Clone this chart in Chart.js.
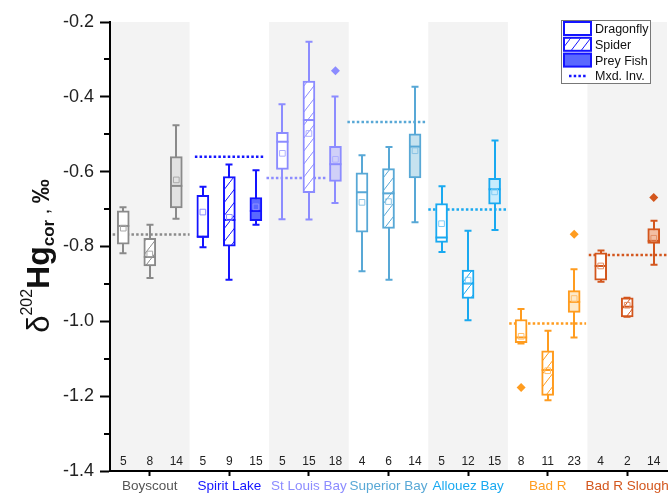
<!DOCTYPE html>
<html>
<head>
<meta charset="utf-8">
<script src="https://cdn.jsdelivr.net/npm/chart.js@4"></script>
<style>
html, body { margin: 0; padding: 0; background: #fff; }
#wrap { width: 672px; height: 494px; }
</style>
</head>
<body>
<div id="wrap"><canvas id="chart" width="672" height="494"></canvas></div>
<script>
// sites along the x axis, each one holds 3 boxes: Dragonfly, Spider, Prey Fish
const sites = ['Boyscout', 'Spirit Lake', 'St Louis Bay', 'Superior Bay', 'Allouez Bay', 'Bad R', 'Bad R Slough'];
const taxa = ['Dragonfly', 'Spider', 'Prey Fish', 'Mxd. Inv.'];

// box statistics, one value per box (site by site, Dragonfly / Spider / Prey Fish)
const whiskerLow = [-0.818, -0.884, -0.726, -0.802, -0.889, -0.742, -0.727, -0.728, -0.684, -0.866, -0.889, -0.735, -0.815, -0.997, -0.756, -1.059, -1.211, -1.043, -0.894, -0.988, -0.849];
const q1 = [-0.794, -0.852, -0.697, -0.776, -0.799, -0.731, -0.594, -0.656, -0.626, -0.762, -0.752, -0.617, -0.789, -0.939, -0.687, -1.057, -1.198, -0.976, -0.890, -0.988, -0.792];
const median = [-0.745, -0.828, -0.638, -0.774, -0.729, -0.705, -0.520, -0.462, -0.580, -0.655, -0.658, -0.533, -0.776, -0.899, -0.647, -1.043, -1.130, -0.948, -0.852, -0.961, -0.785];
const q3 = [-0.705, -0.778, -0.560, -0.663, -0.613, -0.669, -0.495, -0.358, -0.532, -0.603, -0.592, -0.499, -0.685, -0.863, -0.618, -0.995, -1.079, -0.918, -0.817, -0.937, -0.752];
const whiskerHigh = [-0.695, -0.742, -0.476, -0.640, -0.581, -0.596, -0.420, -0.253, -0.399, -0.556, -0.534, -0.373, -0.639, -0.758, -0.517, -0.967, -1.025, -0.861, -0.811, -0.937, -0.731];
const means = [-0.751, -0.820, -0.622, -0.708, -0.722, -0.694, -0.551, -0.498, -0.567, -0.682, -0.680, -0.544, -0.739, -0.890, -0.654, -1.040, -1.132, -0.939, -0.852, -0.957, -0.778];
const counts = [5, 8, 14, 5, 9, 15, 5, 15, 18, 4, 6, 14, 5, 12, 15, 8, 11, 23, 4, 2, 14];

// outliers: which box, and the value
const outlierBox = [8, 15, 17, 20];
const outlierValue = [-0.330, -1.177, -0.767, -0.669];

// mixed invertebrate level per site, and the x span of its dotted line
const mxdInv = [-0.768, -0.560, -0.617, -0.467, -0.701, -1.006, -0.823];
const mxdFrom = [0.1, 3.2, 5.9, 8.95, 12.0, 15.05, 18.05];
const mxdTo = [3.0, 5.85, 8.2, 11.95, 15.0, 17.95, 21];

const yTicks = [-1.4, -1.2, -1.0, -0.8, -0.6, -0.4, -0.2];
const yMinor = [-1.3, -1.1, -0.9, -0.7, -0.5, -0.3];
const countLevel = -1.375;

// colours per site
const siteColors = ['#8a8a8a', '#1414ff', '#8c8cff', '#58a8d6', '#19a9f0', '#ff9c1f', '#d3561d'];
const preyFill = ['#e2e2e2', '#5a68ff', '#d0d0f8', '#c6e2ef', '#c8ecfd', '#fde9c9', '#f3bea3'];
const meanColors = ['#a8a8a8', '#8f8fff', '#b0b0ff', '#8cc4e4', '#80ccf5', '#ffc070', '#e39068'];
const labelColors = ['#555555', '#1414ff', '#8c8cff', '#58a8d6', '#19a9f0', '#ff9c1f', '#d3561d'];
const bandColor = '#f3f3f3';

const FONT = "'Liberation Sans', Arial, sans-serif";
Chart.defaults.font.family = FONT;

function hatch(color) {
    const c = document.createElement('canvas');
    c.width = 10; c.height = 13;
    const g = c.getContext('2d');
    g.fillStyle = '#fff';
    g.fillRect(0, 0, 10, 13);
    g.strokeStyle = color;
    g.lineWidth = 1;
    g.beginPath();
    g.moveTo(-2, 15.6); g.lineTo(12, -2.6);
    g.stroke();
    return g.createPattern(c, 'repeat');
}

const site = i => Math.floor(i / 3);
const boxX = i => i + 0.5;

const boxBg = q1.map((v, i) => {
    const t = i % 3;
    if (t === 0) return '#ffffff';
    if (t === 1) return hatch(siteColors[site(i)]);
    return preyFill[site(i)];
});

const mxdSets = mxdInv.map((v, s) => ({
    type: 'line',
    data: [{ x: mxdFrom[s], y: v }, { x: mxdTo[s], y: v }],
    borderColor: siteColors[s],
    borderWidth: 2.5,
    borderDash: [2.5, 2.2],
    pointRadius: 0,
    order: 10
}));

const boxPlugin = {
    id: 'boxes',
    beforeDraw(chart) {
        const { ctx, chartArea: a, scales: { x } } = chart;
        ctx.save();
        ctx.fillStyle = bandColor;
        sites.forEach((s, k) => {
            if (k % 2) return;
            const l = x.getPixelForValue(k * 3), r = x.getPixelForValue(k * 3 + 3);
            ctx.fillRect(l, a.top, r - l, a.bottom - a.top);
        });
        ctx.restore();
    },
    beforeDatasetsDraw(chart) {
        const { ctx, scales: { x, y } } = chart;
        ctx.save();
        ctx.lineWidth = 2;
        q1.forEach((v, i) => {
            const px = Math.round(x.getPixelForValue(boxX(i)));
            ctx.strokeStyle = siteColors[site(i)];
            const lo = y.getPixelForValue(whiskerLow[i]), hi = y.getPixelForValue(whiskerHigh[i]);
            ctx.beginPath();
            ctx.moveTo(px, lo); ctx.lineTo(px, hi);
            ctx.moveTo(px - 3.5, lo); ctx.lineTo(px + 3.5, lo);
            ctx.moveTo(px - 3.5, hi); ctx.lineTo(px + 3.5, hi);
            ctx.stroke();
        });
        ctx.restore();
    },
    afterDatasetDraw(chart, args) {
        if (args.meta.type !== 'bar') return;
        const { ctx, scales: { x, y } } = chart;
        ctx.save();
        ctx.lineWidth = 2;
        median.forEach((m, i) => {
            const px = x.getPixelForValue(boxX(i));
            const py = y.getPixelForValue(m);
            ctx.strokeStyle = siteColors[site(i)];
            ctx.beginPath();
            ctx.moveTo(px - 6, py); ctx.lineTo(px + 6, py);
            ctx.stroke();
        });
        ctx.restore();
    },
    afterDraw(chart) {
        const { ctx, chartArea: a, scales: { x, y } } = chart;
        ctx.save();
        // minor ticks
        ctx.strokeStyle = '#000';
        ctx.lineWidth = 2;
        yMinor.forEach(v => {
            const py = Math.round(y.getPixelForValue(v));
            ctx.beginPath();
            ctx.moveTo(a.left - 6, py); ctx.lineTo(a.left, py);
            ctx.stroke();
        });
        // counts
        ctx.fillStyle = '#222';
        ctx.font = '12px ' + FONT;
        ctx.textAlign = 'center';
        ctx.textBaseline = 'middle';
        counts.forEach((n, i) => {
            ctx.fillText(String(n), x.getPixelForValue(boxX(i)), y.getPixelForValue(countLevel));
        });
        // legend
        const lx = 561.5, ly = 20.5, lw = 89, lh = 63;
        ctx.fillStyle = '#fff';
        ctx.fillRect(lx, ly, lw, lh);
        ctx.strokeStyle = '#777';
        ctx.lineWidth = 1;
        ctx.strokeRect(lx, ly, lw, lh);
        const legBlue = siteColors[1];
        const legFills = ['#ffffff', hatch(legBlue), preyFill[1]];
        ctx.textAlign = 'left';
        ctx.font = '12.5px ' + FONT;
        taxa.forEach((t, k) => {
            const cy = 28.5 + k * 15.8;
            if (k < 3) {
                ctx.fillStyle = legFills[k];
                ctx.fillRect(564, cy - 6.5, 27, 13);
                ctx.strokeStyle = legBlue;
                ctx.lineWidth = 2;
                ctx.strokeRect(564, cy - 6.5, 27, 13);
            } else {
                ctx.strokeStyle = legBlue;
                ctx.lineWidth = 2.5;
                ctx.setLineDash([2.5, 2.2]);
                ctx.beginPath();
                ctx.moveTo(569, cy); ctx.lineTo(586, cy);
                ctx.stroke();
                ctx.setLineDash([]);
            }
            ctx.fillStyle = '#111';
            ctx.fillText(t, 595, cy + 1);
        });
        // y axis title
        ctx.translate(49, 256);
        ctx.rotate(-Math.PI / 2);
        const parts = [
            { t: '\u03b4', f: '31px ' + FONT, dy: 0 },
            { t: '202', f: '16px ' + FONT, dy: -17 },
            { t: 'Hg', f: 'bold 32px ' + FONT, dy: 0 },
            { t: 'cor', f: 'bold 17px ' + FONT, dy: 5 },
            { t: ' , ', f: '20px ' + FONT, dy: 0 },
            { t: '\u2030', f: 'bold 24px ' + FONT, dy: 0 }
        ];
        let total = 0;
        parts.forEach(p => { ctx.font = p.f; p.w = ctx.measureText(p.t).width; total += p.w; });
        let cx = -total / 2;
        ctx.fillStyle = '#111';
        ctx.textBaseline = 'alphabetic';
        parts.forEach(p => {
            ctx.font = p.f;
            ctx.fillText(p.t, cx, p.dy);
            cx += p.w;
        });
        ctx.restore();
    }
};

new Chart(document.getElementById('chart'), {
    type: 'bar',
    data: {
        datasets: [
            ...mxdSets,
            {
                type: 'bar',
                data: q1.map((v, i) => ({ x: boxX(i), y: [v, q3[i]] })),
                backgroundColor: boxBg,
                borderColor: q1.map((v, i) => siteColors[site(i)]),
                borderWidth: 2,
                borderSkipped: false,
                barThickness: 12,
                order: 5
            },
            {
                type: 'scatter',
                data: means.map((m, i) => ({ x: boxX(i), y: m })),
                pointStyle: 'rect',
                pointRadius: 4,
                borderWidth: 1,
                borderColor: means.map((m, i) => meanColors[site(i)]),
                backgroundColor: 'rgba(0,0,0,0)',
                order: 1
            },
            {
                type: 'scatter',
                data: outlierBox.map((b, k) => ({ x: boxX(b), y: outlierValue[k] })),
                pointStyle: 'rectRot',
                pointRadius: 4.5,
                borderWidth: 0,
                backgroundColor: outlierBox.map(b => siteColors[site(b)]),
                order: 1
            }
        ]
    },
    options: {
        responsive: false,
        animation: false,
        events: [],
        layout: { padding: { top: 22, right: 2, left: 0, bottom: 0 } },
        plugins: { legend: { display: false }, tooltip: { enabled: false } },
        scales: {
            x: {
                type: 'linear',
                min: 0,
                max: 21,
                offset: false,
                border: { color: '#000', width: 2 },
                grid: { drawOnChartArea: false, offset: false, color: '#000', tickLength: 5, tickWidth: 2 },
                afterBuildTicks: scale => { scale.ticks = sites.map((s, k) => ({ value: k * 3 + 1.5 })); },
                afterFit: scale => { scale.height = 23; scale.paddingLeft = 0; scale.paddingRight = 0; },
                ticks: {
                    autoSkip: false,
                    maxRotation: 0,
                    padding: 2,
                    font: { size: 13.5 },
                    color: c => labelColors[c.index],
                    callback: (v, i) => sites[i]
                }
            },
            y: {
                min: -1.4,
                max: -0.2,
                border: { color: '#000', width: 2 },
                grid: { drawOnChartArea: false, color: '#000', tickLength: 10, tickWidth: 2 },
                afterBuildTicks: scale => { scale.ticks = yTicks.map(v => ({ value: v })); },
                afterFit: scale => { scale.width = 110; },
                ticks: {
                    padding: 6,
                    font: { size: 18 },
                    color: '#222',
                    callback: v => v.toFixed(1)
                }
            }
        }
    },
    plugins: [boxPlugin]
});
</script>
</body>
</html>
